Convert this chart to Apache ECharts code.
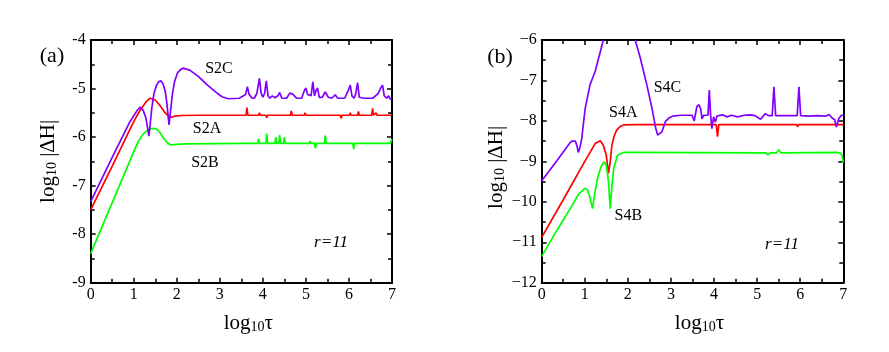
<!DOCTYPE html>
<html><head><meta charset="utf-8">
<script src="https://cdn.jsdelivr.net/npm/echarts@6/dist/echarts.min.js"></script>
<style>html,body{margin:0;padding:0;background:#fff}#c{width:889px;height:352px}</style>
</head><body><div id="c"></div><script>
// ---------- Data (x = log10 tau, y = log10 |dH|) ----------
const xTicks = [0, 1, 2, 3, 4, 5, 6, 7];
const yTicksA = [-9, -8, -7, -6, -5, -4];
const yTicksB = [-12, -11, -10, -9, -8, -7, -6];

const S2A = [[0,-7.5],[0.5,-6.6],[0.9,-5.86],[1.0,-5.68],[1.1,-5.52],[1.155,-5.44],[1.25,-5.32],[1.3,-5.26],[1.38,-5.2],[1.49,-5.23],[1.6,-5.34],[1.72,-5.49],[1.82,-5.58],[1.88,-5.59],[1.95,-5.57],[2.1,-5.555],[2.5,-5.55],
  [3.61,-5.55],[3.63,-5.39],[3.65,-5.55],[3.9,-5.55],[3.92,-5.5],[3.94,-5.55],[4.07,-5.55],[4.09,-5.6],[4.11,-5.55],[4.64,-5.55],[4.66,-5.46],[4.68,-5.55],
  [4.96,-5.55],[4.98,-5.5],[5.0,-5.55],[5.8,-5.55],[5.82,-5.61],[5.84,-5.55],[6.01,-5.55],[6.03,-5.5],[6.05,-5.55],[6.2,-5.55],[6.22,-5.47],[6.24,-5.55],
  [6.53,-5.55],[6.55,-5.41],[6.57,-5.55],[6.61,-5.55],[6.63,-5.5],[6.65,-5.55],[6.78,-5.55],[6.8,-5.58],[6.82,-5.55],[7.0,-5.55]];

const S2B = [[0,-8.4],[0.5,-7.35],[1.0,-6.3],[1.1,-6.1],[1.2,-5.96],[1.3,-5.87],[1.4,-5.83],[1.47,-5.82],[1.55,-5.85],[1.62,-5.92],[1.72,-6.06],[1.81,-6.14],[1.87,-6.16],[2.0,-6.15],[2.2,-6.14],
  [3.58,-6.13],[3.6,-6.09],[3.62,-6.13],[3.88,-6.13],[3.9,-6.04],[3.92,-6.13],[4.07,-6.13],[4.09,-5.93],[4.11,-6.13],[4.28,-6.13],[4.3,-6.0],[4.32,-6.13],
  [4.37,-6.13],[4.39,-5.96],[4.41,-6.13],[4.48,-6.13],[4.5,-6.0],[4.52,-6.13],[5.08,-6.13],[5.1,-6.08],[5.12,-6.13],[5.2,-6.13],[5.22,-6.23],[5.24,-6.13],
  [5.43,-6.13],[5.45,-5.97],[5.47,-6.13],[6.09,-6.13],[6.11,-6.25],[6.13,-6.13],[6.96,-6.13],[7.0,-6.04]];

const S2C = [[0,-7.33],[0.5,-6.42],[0.9,-5.7],[1.0,-5.56],[1.08,-5.45],[1.155,-5.385],[1.22,-5.45],[1.28,-5.6],[1.32,-5.8],[1.35,-5.98],[1.38,-5.75],[1.42,-5.4],[1.47,-5.1],[1.53,-4.93],[1.58,-4.86],[1.63,-4.84],[1.68,-4.9],[1.73,-5.05],[1.77,-5.3],[1.8,-5.58],[1.82,-5.75],[1.85,-5.5],[1.9,-5.1],[1.95,-4.85],[2.02,-4.67],[2.1,-4.6],[2.15,-4.58],[2.3,-4.62],[2.5,-4.75],[2.7,-4.92],[2.9,-5.07],[3.05,-5.17],[3.2,-5.21],[3.45,-5.2],
  [3.55,-5.15],[3.6,-5.12],[3.64,-4.96],[3.68,-5.12],[3.75,-5.2],[3.8,-5.2],[3.86,-5.1],[3.92,-4.79],[3.96,-5.1],[4.0,-5.18],[4.04,-5.1],[4.08,-4.84],[4.12,-5.15],[4.16,-5.2],[4.22,-5.15],[4.28,-5.19],[4.35,-5.15],[4.39,-5.08],[4.44,-5.2],[4.55,-5.2],[4.63,-5.09],[4.7,-5.12],[4.78,-5.2],[4.9,-5.2],[4.96,-5.05],[5.0,-4.99],[5.04,-5.12],[5.08,-5.1],[5.12,-5.15],[5.16,-4.86],[5.2,-5.15],[5.23,-5.05],[5.27,-4.99],[5.31,-5.18],[5.38,-5.18],[5.45,-5.07],[5.52,-5.18],[5.6,-5.2],[5.68,-5.13],[5.74,-5.2],[5.9,-5.2],[5.98,-5.05],[6.03,-4.93],[6.07,-5.15],[6.12,-5.2],[6.16,-5.1],[6.2,-4.88],[6.24,-5.18],[6.35,-5.2],[6.55,-5.2],[6.63,-5.14],[6.68,-5.1],[6.73,-5.0],[6.78,-4.93],[6.82,-5.15],[6.88,-5.2],[6.92,-5.15],[6.96,-5.22],[7.0,-5.21]];

const S4A = [[0,-10.88],[0.5,-9.95],[1.0,-9.0],[1.24,-8.56],[1.36,-8.49],[1.43,-8.6],[1.5,-8.85],[1.55,-9.3],[1.59,-9.01],[1.63,-8.6],[1.68,-8.38],[1.74,-8.23],[1.82,-8.14],[1.9,-8.1],[2.2,-8.09],
  [4.05,-8.09],[4.08,-8.39],[4.11,-8.09],[5.91,-8.09],[5.94,-8.14],[5.97,-8.09],[7.0,-8.09]];

const S4B = [[0,-11.35],[0.3,-10.8],[0.5,-10.45],[0.7,-10.1],[0.85,-9.82],[1.0,-9.67],[1.06,-9.7],[1.11,-9.85],[1.18,-10.17],[1.23,-9.8],[1.3,-9.4],[1.38,-9.12],[1.45,-9.01],[1.5,-9.1],[1.55,-9.5],[1.59,-10.17],[1.63,-9.6],[1.67,-9.18],[1.76,-8.85],[1.9,-8.78],[2.2,-8.78],
  [5.2,-8.79],[5.25,-8.84],[5.3,-8.79],[5.45,-8.79],[5.5,-8.71],[5.55,-8.79],[6.85,-8.78],[6.93,-8.8],[6.97,-8.85],[7.0,-9.04]];

const S4C = [[0,-9.48],[0.3,-9.06],[0.5,-8.77],[0.65,-8.55],[0.7,-8.5],[0.78,-8.5],[0.82,-8.62],[0.85,-8.78],[0.89,-8.65],[0.93,-8.43],[0.97,-8.05],[1.01,-7.69],[1.12,-7.11],[1.24,-6.78],[1.36,-6.29],[1.43,-6.0],[1.8,'-'],[2.17,-6.0],[2.29,-6.45],[2.44,-7.11],[2.56,-7.69],[2.64,-8.15],[2.69,-8.35],[2.72,-8.39],[2.79,-8.27],[2.87,-8.02],[2.95,-7.93],[3.05,-7.88],[3.22,-7.86],[3.49,-7.86],
  [3.54,-8.0],[3.6,-7.65],[3.65,-7.6],[3.69,-7.7],[3.72,-7.95],[3.76,-7.86],[3.86,-7.86],[3.89,-7.24],[3.92,-7.85],[3.95,-8.19],[3.99,-7.9],[4.03,-8.03],[4.07,-7.88],[4.19,-7.85],[4.3,-7.9],[4.4,-7.86],[4.55,-7.9],[4.7,-7.86],[4.84,-7.85],[4.95,-7.87],[5.08,-7.96],[5.19,-7.82],[5.26,-7.87],[5.35,-7.87],[5.39,-7.16],[5.43,-7.87],[5.55,-7.87],[5.7,-7.87],[5.93,-7.87],[5.97,-7.16],[6.01,-7.87],[6.2,-7.88],[6.4,-7.87],[6.6,-7.88],[6.67,-7.84],[6.74,-7.93],[6.8,-7.97],[6.84,-8.15],[6.9,-7.93],[6.96,-7.86],[7.0,-7.86]];

const COL = {red:'#ff0000', green:'#00ff00', purple:'#8000ff'};
const FONT = "'Liberation Serif','Times New Roman',serif";

// ---------- Chart ----------
const chart = echarts.init(document.getElementById('c'), null, {renderer:'canvas'});
const grids = [
  {left: 90.7, top: 40, width: 301.3, height: 242.7},
  {left: 541.7, top: 40, width: 301.6, height: 242.7}
];
const lineStyleAxis = {color:'#000', width:2};
const nameRich = {
  a:{fontFamily:FONT, fontSize:21, color:'#000', lineHeight:22, verticalAlign:'top'},
  s:{fontFamily:FONT, fontSize:14, color:'#000', lineHeight:14, padding:[13,0,0,0], verticalAlign:'bottom'}
};
function xAx(g, pos, label) {
  return {type:'value', gridIndex:g, position:pos, min:xTicks[0], max:xTicks[xTicks.length-1], interval:1,
    axisLine:{show:true, onZero:false, lineStyle:lineStyleAxis},
    axisTick:{show:true, inside:true, length:5, lineStyle:{color:'#000', width:1.5}},
    minorTick:{show:true, splitNumber:2, length:4, lineStyle:{color:'#000', width:1.5}},
    splitLine:{show:false},
    axisLabel:{show:label, color:'#000', fontFamily:FONT, fontSize:16, margin:4},
    name: label ? '{a|log}{s|10}{a|τ}' : '', nameLocation:'middle', nameGap:25,
    nameTextStyle:{padding:[0,0,0,14], rich:nameRich}
  };
}
function yAx(g, pos, label, ticks, minusChar, namePad) {
  return {type:'value', gridIndex:g, position:pos, min:ticks[0], max:ticks[ticks.length-1], interval:1,
    axisLine:{show:true, onZero:false, lineStyle:lineStyleAxis},
    axisTick:{show:true, inside:true, length:5, lineStyle:{color:'#000', width:1.5}},
    minorTick:{show:true, splitNumber:2, length:4, lineStyle:{color:'#000', width:1.5}},
    splitLine:{show:false},
    axisLabel:{show:label, color:'#000', fontFamily:FONT, fontSize:16, margin:5,
      formatter: v => (v < 0 ? minusChar + Math.abs(v) : String(v))},
    name: label ? '{a|log}{s|10}{a| |ΔH|}' : '', nameLocation:'middle', nameGap:namePad[0],
    nameTextStyle:{padding:namePad[1], rich:nameRich}
  };
}
function ser(name, data, color, xi, yi) {
  return {name, type:'line', data, xAxisIndex:xi, yAxisIndex:yi, showSymbol:false, symbol:'none',
    connectNulls:false, clip:true, lineStyle:{color, width:1.7}, itemStyle:{color}, animation:false, z:3};
}
function txt(x, y, text, size, italic) {
  return {type:'text', x, y, z:10, style:{text, fill:'#000', fontFamily:FONT, fontSize:size,
    fontStyle: italic ? 'italic' : 'normal', align:'center', verticalAlign:'middle'}};
}
chart.setOption({
  backgroundColor:'#fff',
  animation:false,
  grid: grids,
  xAxis: [xAx(0,'bottom',true), xAx(0,'top',false), xAx(1,'bottom',true), xAx(1,'top',false)],
  yAxis: [yAx(0,'left',true,yTicksA,'-',[31,[0,0,0,0]]), yAx(0,'right',false,yTicksA,'-',[0,0]),
          yAx(1,'left',true,yTicksB,'−',[31,[0,12,0,0]]), yAx(1,'right',false,yTicksB,'−',[0,0])],
  series: [
    ser('S2A', S2A, COL.red, 0, 0),
    ser('S2B', S2B, COL.green, 0, 0),
    ser('S2C', S2C, COL.purple, 0, 0),
    ser('S4A', S4A, COL.red, 2, 2),
    ser('S4B', S4B, COL.green, 2, 2),
    ser('S4C', S4C, COL.purple, 2, 2)
  ],
  graphic: [
    txt(52, 56, '(a)', 22), txt(500, 57, '(b)', 22),
    txt(219, 69, 'S2C', 16), txt(207, 129, 'S2A', 16), txt(205, 162.5, 'S2B', 16),
    txt(331, 243, 'r=11', 17, true),
    txt(667.5, 87.5, 'S4C', 16), txt(623.3, 112.5, 'S4A', 16), txt(628.3, 216, 'S4B', 16),
    txt(782, 245, 'r=11', 17, true)
  ]
});
</script></body></html>
